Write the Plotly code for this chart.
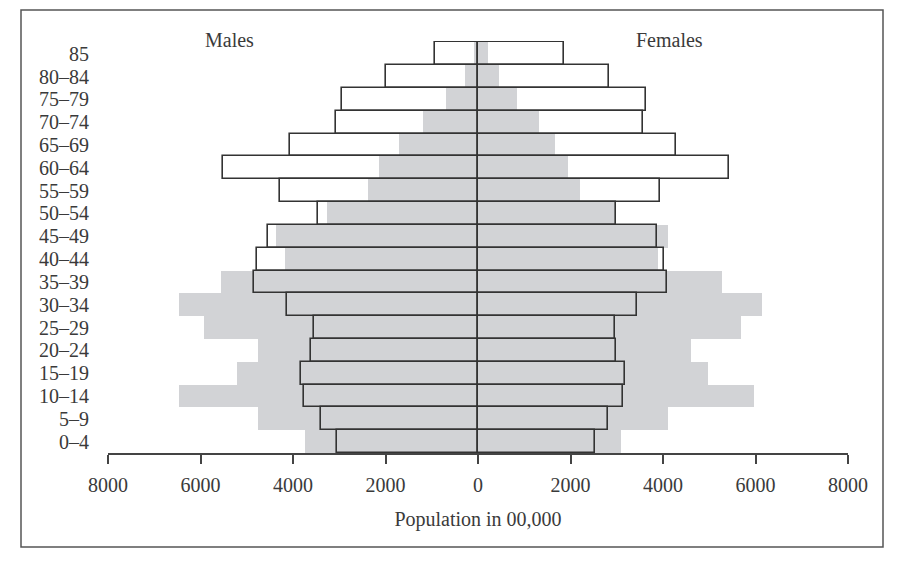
import plotly.graph_objects as go

age_groups = ["0–4", "5–9", "10–14", "15–19", "20–24", "25–29", "30–34", "35–39",
              "40–44", "45–49", "50–54", "55–59", "60–64", "65–69", "70–74",
              "75–79", "80–84", "85"]

# outlined bars
males_outline = [3050, 3400, 3770, 3820, 3620, 3540, 4140, 4850, 4780, 4550,
                 3470, 4280, 5510, 4070, 3080, 2930, 2000, 940]
females_outline = [2530, 2800, 3130, 3170, 2990, 2960, 3440, 4080, 4020, 3860,
                   2990, 3940, 5430, 4290, 3570, 3630, 2830, 1850]

# gray filled bars
males_gray = [3740, 4750, 6470, 5220, 4750, 5930, 6470, 5560, 4180, 4360,
              3260, 2380, 2130, 1700, 1200, 700, 280, 90]
females_gray = [3100, 4110, 5960, 4980, 4610, 5680, 6130, 5270, 3890, 4110,
                2990, 2200, 1950, 1670, 1310, 840, 450, 220]

tick_vals = [-8000, -6000, -4000, -2000, 0, 2000, 4000, 6000, 8000]
tick_text = ["8000", "6000", "4000", "2000", "0", "2000", "4000", "6000", "8000"]

FONT = "Liberation Serif"
GRAY = "#d2d3d6"
EDGE = "#333333"
TXT = "#3a3a3a"

fig = go.Figure()
fig.add_trace(go.Bar(y=age_groups, x=[-v for v in males_gray], orientation="h",
                     marker=dict(color=GRAY, line=dict(width=0)), showlegend=False,
                     cliponaxis=False))
fig.add_trace(go.Bar(y=age_groups, x=females_gray, orientation="h",
                     marker=dict(color=GRAY, line=dict(width=0)), showlegend=False,
                     cliponaxis=False))
fig.add_trace(go.Bar(y=age_groups, x=[-v for v in males_outline], orientation="h",
                     marker=dict(color="rgba(0,0,0,0)", line=dict(color=EDGE, width=1.6)),
                     showlegend=False, cliponaxis=False))
fig.add_trace(go.Bar(y=age_groups, x=females_outline, orientation="h",
                     marker=dict(color="rgba(0,0,0,0)", line=dict(color=EDGE, width=1.6)),
                     showlegend=False, cliponaxis=False))

L, R, T, B = 108, 63, 41, 112
W, H = 911, 565
pw, ph = W - L - R, H - T - B

def px_x(p):
    return (p - L) / pw

def px_y(p):
    return (H - B - p) / ph

fig.update_layout(
    width=W, height=H,
    margin=dict(l=L, r=R, t=T, b=B, pad=0),
    paper_bgcolor="white", plot_bgcolor="white",
    barmode="overlay", bargap=0,
    font=dict(family=FONT, size=20, color=TXT),
    xaxis=dict(range=[-8000, 8000], tickmode="array", tickvals=tick_vals, ticktext=tick_text,
               showgrid=False, zeroline=False, showline=True, linecolor="#444444",
               linewidth=1.5, ticks="outside", ticklen=9, tickcolor="#444444",
               tickwidth=1.5, automargin=False, ticklabelstandoff=4,
               title=dict(text="Population in 00,000", standoff=17,
                          font=dict(family=FONT, size=20, color=TXT)),
               tickfont=dict(family=FONT, size=20, color=TXT)),
    yaxis=dict(categoryorder="array", categoryarray=age_groups, range=[-0.5, 17.56],
               tickmode="array", tickvals=age_groups, ticktext=age_groups,
               showgrid=False, zeroline=False, showline=False, ticks="",
               automargin=False, ticklabelstandoff=18,
               tickfont=dict(family=FONT, size=20, color=TXT)),
    shapes=[dict(type="rect", xref="paper", yref="paper",
                 x0=px_x(21), x1=px_x(883), y0=px_y(547), y1=px_y(10),
                 line=dict(color="#555555", width=1.5))],
    annotations=[
        dict(text="Males", x=-5380, y=px_y(27), xref="x", yref="paper",
             showarrow=False, font=dict(family=FONT, size=20, color=TXT)),
        dict(text="Females", x=4130, y=px_y(27), xref="x", yref="paper",
             showarrow=False, font=dict(family=FONT, size=20, color=TXT)),
    ],
)

fig.write_html("out.html")
